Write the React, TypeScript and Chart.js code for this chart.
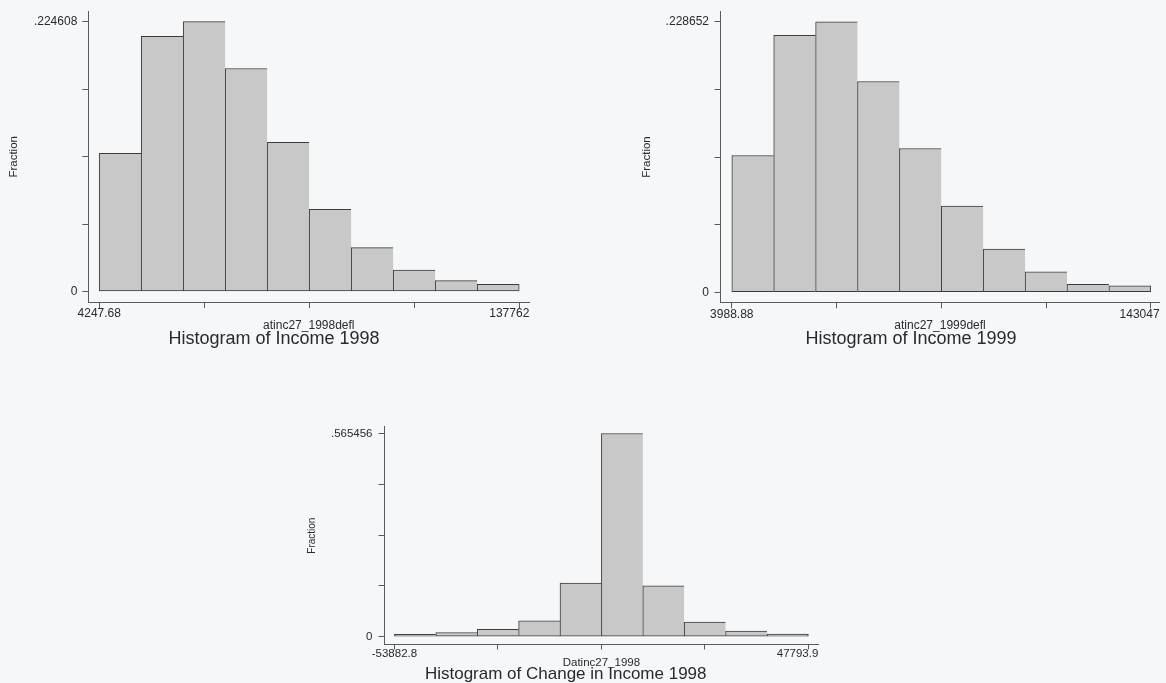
import React, { useEffect, useRef } from "react";
import { Chart, registerables } from "chart.js";

Chart.register(...registerables);

// ---------- data ----------
const income1998Fractions = [0.1151, 0.2124, 0.224608, 0.1856, 0.1242, 0.0684, 0.0365, 0.0178, 0.009, 0.006];
const income1998Range = [4247.68, 137762];

const income1999Fractions = [0.1156, 0.2172, 0.228652, 0.1781, 0.1215, 0.0729, 0.0365, 0.0173, 0.0067, 0.0054];
const income1999Range = [3988.88, 143047];

const change1998Fractions = [0.007, 0.012, 0.0205, 0.0445, 0.1496, 0.565456, 0.1414, 0.041, 0.016, 0.0072];
const change1998Range = [-53882.8, 47793.9];

const chartTitles = ["Histogram of Income 1998", "Histogram of Income 1999", "Histogram of Change in Income 1998"];
const xAxisTitles = ["atinc27_1998defl", "atinc27_1999defl", "Datinc27_1998"];
const yAxisTitle = "Fraction";

// ---------- styling / layout ----------
const FONT = '"Liberation Sans", Arial, Helvetica, sans-serif';
const TEXT = "#2a2a2a";
const AXIS = "#5a5a5a";
const BAR_FILL = "#c8c8c8";
const BAR_EDGE = "#3c3c3c";
const PAGE_BG = "#f6f7f9";

type Layout = {
  left: number; top: number; width: number; height: number;
  padLeft: number; padRight: number; padTop: number;
  yAxisWidth: number; xAxisHeight: number;
  titleSize: number; tickSize: number; axisTitleSize: number; yTitleSize: number;
  yTitlePad: number; xTitlePadBottom: number; yLabelPad: number;
  xTickLen: number; yTickLen: number; xLabelGap: number;
  xPadL: number; xPadR: number; yPadB: number; yPadT: number;
};

const layouts: Layout[] = [
  {
    left: 0, top: 0, width: 548, height: 348,
    padLeft: 18.7, padRight: 18.7, padTop: 11.7,
    yAxisWidth: 69.6, xAxisHeight: 28,
    titleSize: 18, tickSize: 12, axisTitleSize: 12, yTitleSize: 11.5,
    yTitlePad: -10.2, xTitlePadBottom: -2, yLabelPad: 5,
    xTickLen: 6, yTickLen: 6, xLabelGap: 0,
    xPadL: 0.026, xPadR: 0.024, yPadB: 0.039, yPadT: 0.037,
  },
  {
    left: 600, top: 0, width: 566, height: 348,
    padLeft: 62.4, padRight: 6.4, padTop: 11.7,
    yAxisWidth: 58.1, xAxisHeight: 27.7,
    titleSize: 18, tickSize: 12, axisTitleSize: 12, yTitleSize: 11.5,
    yTitlePad: -21.2, xTitlePadBottom: -2, yLabelPad: 5.5,
    xTickLen: 6, yTickLen: 6, xLabelGap: 0,
    xPadL: 0.027, xPadR: 0.021, yPadB: 0.037, yPadT: 0.037,
  },
  {
    left: 290, top: 415, width: 560, height: 268,
    padLeft: 23.1, padRight: 31.7, padTop: 10,
    yAxisWidth: 71.4, xAxisHeight: 21.5,
    titleSize: 17, tickSize: 11.5, axisTitleSize: 11.5, yTitleSize: 10,
    yTitlePad: -5.9, xTitlePadBottom: -2.5, yLabelPad: 6,
    xTickLen: 5, yTickLen: 6, xLabelGap: -1,
    xPadL: 0.024, xPadR: 0.024, yPadB: 0.038, yPadT: 0.033,
  },
];

const fmtFraction = (v: number) => (v === 0 ? "0" : String(v).replace(/^0\./, "."));

type HistProps = {
  values: number[];
  range: number[];
  title: string;
  xTitle: string;
  layout: Layout;
};

function Histogram({ values, range, title, xTitle, layout }: HistProps) {
  const canvasRef = useRef<HTMLCanvasElement | null>(null);

  useEffect(() => {
    const L = layout;
    const lo = range[0];
    const hi = range[1];
    const span = hi - lo;
    const n = values.length;
    const binWidth = span / n;
    const topValue = Math.max(...values);
    const xTicks = [0, 1, 2, 3, 4].map((k) => (k === 4 ? hi : lo + (span * k) / 4));
    const yTicks = [0, 1, 2, 3, 4].map((k) => (k === 4 ? topValue : (topValue * k) / 4));
    const points = values.map((v, i) => ({ x: lo + binWidth * (i + 0.5), y: v }));

    const endLabels = {
      id: "xEndLabels",
      afterDraw(chart: any) {
        const s = chart.scales.x;
        const ctx = chart.ctx;
        ctx.save();
        ctx.font = `${L.tickSize}px ${FONT}`;
        ctx.fillStyle = TEXT;
        ctx.textBaseline = "middle";
        const y = s.top + L.xTickLen + L.xLabelGap + L.tickSize / 2;
        ctx.textAlign = "center";
        ctx.fillText(String(lo), s.getPixelForValue(lo), y);
        ctx.textAlign = "right";
        ctx.fillText(String(hi), chart.chartArea.right, y);
        ctx.restore();
      },
    };

    const chart = new Chart(canvasRef.current as HTMLCanvasElement, {
      type: "bar",
      data: {
        datasets: [
          {
            data: points as any,
            backgroundColor: BAR_FILL,
            borderColor: BAR_EDGE,
            borderWidth: ((c: any) => ({
              left: 1,
              top: 1,
              bottom: 1,
              right: c.dataIndex === n - 1 ? 1 : 0,
            })) as any,
            borderSkipped: false,
            barPercentage: 1,
            categoryPercentage: 1,
          },
        ],
      },
      options: {
        animation: false,
        responsive: true,
        maintainAspectRatio: false,
        events: [],
        layout: {
          padding: { left: L.padLeft, right: L.padRight, top: L.padTop, bottom: 0 },
        },
        plugins: {
          legend: { display: false },
          tooltip: { enabled: false },
          title: {
            display: true,
            text: title,
            position: "bottom",
            align: "center",
            color: TEXT,
            font: { family: FONT, size: L.titleSize, weight: "normal", lineHeight: 1 },
            padding: { top: 0, bottom: 0 },
          },
        },
        scales: {
          x: {
            type: "linear",
            min: lo - span * L.xPadL,
            max: hi + span * L.xPadR,
            offset: false,
            afterBuildTicks: (s: any) => {
              s.ticks = xTicks.map((v) => ({ value: v }));
            },
            afterFit: (s: any) => {
              s.height = L.xAxisHeight;
            },
            ticks: { display: false, autoSkip: false },
            grid: {
              display: true,
              drawOnChartArea: false,
              drawTicks: true,
              tickLength: L.xTickLen,
              color: AXIS,
              offset: false,
            },
            border: { display: true, color: AXIS, width: 1 },
            title: {
              display: true,
              text: xTitle,
              color: TEXT,
              font: { family: FONT, size: L.axisTitleSize, lineHeight: 1 },
              padding: { top: 0, bottom: L.xTitlePadBottom },
            },
          } as any,
          y: {
            type: "linear",
            min: -topValue * L.yPadB,
            max: topValue * (1 + L.yPadT),
            afterBuildTicks: (s: any) => {
              s.ticks = yTicks.map((v) => ({ value: v }));
            },
            afterFit: (s: any) => {
              s.width = L.yAxisWidth;
            },
            ticks: {
              autoSkip: false,
              padding: L.yLabelPad,
              color: TEXT,
              font: { family: FONT, size: L.tickSize, lineHeight: 1 },
              callback: (v: any) => (v === 0 || v === topValue ? fmtFraction(v) : ""),
            },
            grid: {
              display: true,
              drawOnChartArea: false,
              drawTicks: true,
              tickLength: L.yTickLen,
              color: AXIS,
            },
            border: { display: true, color: AXIS, width: 1 },
            title: {
              display: true,
              text: yAxisTitle,
              color: TEXT,
              font: { family: FONT, size: L.yTitleSize, lineHeight: 1 },
              padding: { top: L.yTitlePad, bottom: 0 },
            },
          } as any,
        },
      },
      plugins: [endLabels],
    });

    return () => chart.destroy();
  }, [values, range, title, xTitle, layout]);

  return (
    <div
      style={{
        position: "absolute",
        left: layout.left,
        top: layout.top,
        width: layout.width,
        height: layout.height,
      }}
    >
      <canvas ref={canvasRef} />
    </div>
  );
}

export default function App() {
  return (
    <div
      style={{
        position: "fixed",
        left: 0,
        top: 0,
        width: 1166,
        height: 683,
        background: PAGE_BG,
        overflow: "hidden",
      }}
    >
      <Histogram
        values={income1998Fractions}
        range={income1998Range}
        title={chartTitles[0]}
        xTitle={xAxisTitles[0]}
        layout={layouts[0]}
      />
      <Histogram
        values={income1999Fractions}
        range={income1999Range}
        title={chartTitles[1]}
        xTitle={xAxisTitles[1]}
        layout={layouts[1]}
      />
      <Histogram
        values={change1998Fractions}
        range={change1998Range}
        title={chartTitles[2]}
        xTitle={xAxisTitles[2]}
        layout={layouts[2]}
      />
    </div>
  );
}
